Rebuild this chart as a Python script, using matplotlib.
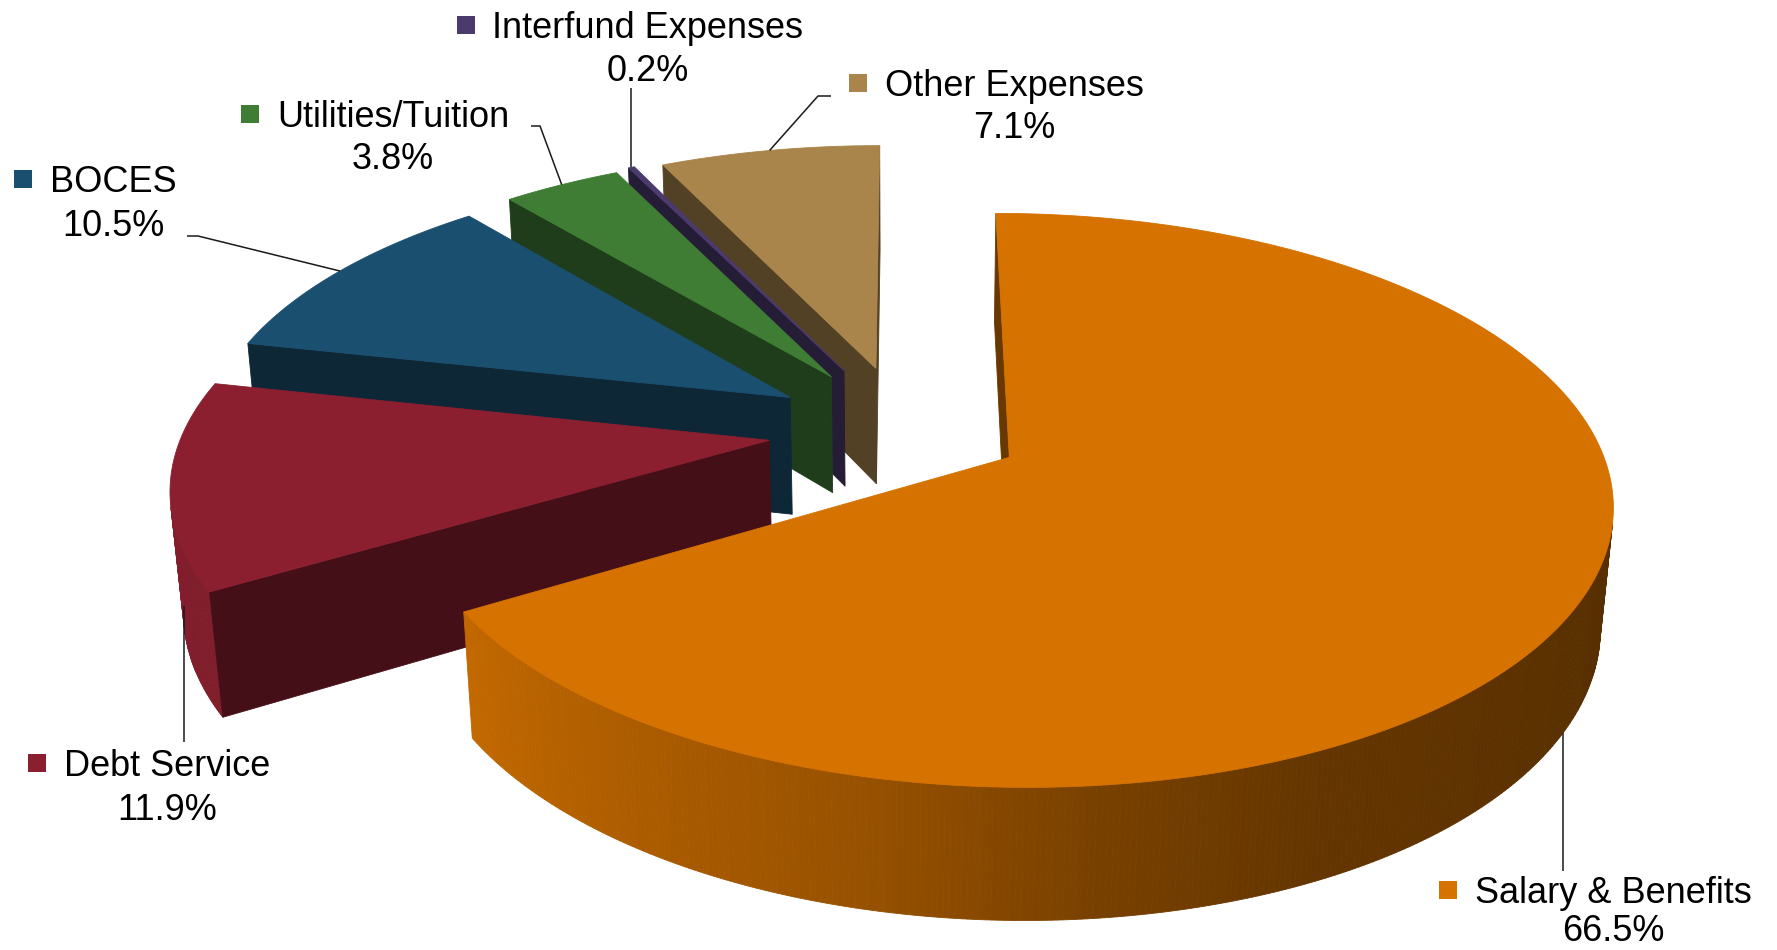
import numpy as np
import matplotlib.pyplot as plt
from matplotlib.patches import Polygon, Rectangle
from matplotlib.colors import to_rgb

# data
categories = ["Salary & Benefits", "Debt Service", "BOCES",
              "Utilities/Tuition", "Interfund Expenses", "Other Expenses"]
shares = [66.5, 11.9, 10.5, 3.8, 0.2, 7.1]
colors = ["#d57200", "#8b1f2f", "#1a4f70", "#3f7d35", "#4b3a6c", "#a9854b"]
explode = [0.20, 0.235, 0.235, 0.24, 0.25, 0.24]

# label layout (pixels): centre x, baseline of name, baseline of percent
label_x = [1613, 167, 113, 393, 648, 1014]
name_base = [903, 776, 192, 127, 38, 96]
pct_base = [941, 820, 236, 169, 81, 138]
# leader line bends after the attach point (None -> keep x of attach point)
leader_pts = [[(None, 871)], [(None, 742)], [(198, 236), (187, 236)],
              [(540, 126), (531, 126)], [(None, 88)], [(818, 96), (831, 96)]]

# view (perspective camera looking down at the pie)
W, H = 1777, 950
CX, CY = 906, 430
F, D = 3516.0, 6.0
elev = np.radians(27.7)
s_e, k_e = np.sin(elev), np.cos(elev)
DEPTH = 0.232
cam = np.array([0.0, -D * k_e, D * s_e])


def proj(X, Y, Z):
    X, Y, Z = np.asarray(X, float), np.asarray(Y, float), np.asarray(Z, float)
    zc = Y * k_e - Z * s_e + D
    return CX + F * X / zc, CY - F * (Y * s_e + Z * k_e) / zc


def shade(c, f):
    return tuple(np.clip(np.array(to_rgb(c)) * f, 0, 1))


def wall_factor(deg):
    d = deg % 360
    if d < 90:
        d += 360
    return np.interp(d, [180, 210, 255, 275, 295, 330, 360],
                     [0.95, 0.92, 0.72, 0.57, 0.47, 0.42, 0.40])


fig = plt.figure(figsize=(W / 100, H / 100), dpi=100)
ax = fig.add_axes([0, 0, 1, 1])
ax.set_xlim(0, W)
ax.set_ylim(H, 0)
ax.axis("off")

# slice geometry
slices = []
start = 90.0
for i, p in enumerate(shares):
    a0 = start
    a1 = start - p * 3.6
    start = a1
    mid = np.radians((a0 + a1) / 2)
    ex, ey = explode[i] * np.cos(mid), explode[i] * np.sin(mid)
    slices.append(dict(i=i, a0=a0, a1=a1, mid=mid, ex=ex, ey=ey))

z = 1
for sl in sorted(slices, key=lambda d: -d["ey"]):
    i, ex, ey = sl["i"], sl["ex"], sl["ey"]
    col = colors[i]
    n = max(int(abs(sl["a0"] - sl["a1"]) * 2), 2)
    th = np.radians(np.linspace(sl["a0"], sl["a1"], n + 1))
    rx, ry = ex + np.cos(th), ey + np.sin(th)
    tx, ty = proj(rx, ry, 0)
    bx, by = proj(rx, ry, -DEPTH)

    # outer wall
    for j in range(n):
        tm = (th[j] + th[j + 1]) / 2
        px, py = ex + np.cos(tm), ey + np.sin(tm)
        if np.cos(tm) * (cam[0] - px) + np.sin(tm) * (cam[1] - py) <= 0:
            continue
        fc = shade(col, wall_factor(np.degrees(tm)))
        quad = [(tx[j], ty[j]), (tx[j + 1], ty[j + 1]),
                (bx[j + 1], by[j + 1]), (bx[j], by[j])]
        ax.add_patch(Polygon(quad, closed=True, fc=fc, ec=fc, lw=0.6, zorder=z))
    z += 1

    # radial faces
    axt, ayt = proj(ex, ey, 0)
    axb, ayb = proj(ex, ey, -DEPTH)
    for edge, nrm, k in ((sl["a0"], sl["a0"] + 90, 0), (sl["a1"], sl["a1"] - 90, -1)):
        nr = np.radians(nrm)
        if np.cos(nr) * (cam[0] - ex) + np.sin(nr) * (cam[1] - ey) <= 0:
            continue
        fc = shade(col, 0.49)
        quad = [(float(axt), float(ayt)), (tx[k], ty[k]), (bx[k], by[k]),
                (float(axb), float(ayb))]
        ax.add_patch(Polygon(quad, closed=True, fc=fc, ec=fc, lw=0.6, zorder=z))
    z += 1

    # top face
    top = [(float(axt), float(ayt))] + list(zip(tx, ty))
    ax.add_patch(Polygon(top, closed=True, fc=col, ec=col, lw=0.6, zorder=z))
    z += 1

# labels and leader lines
renderer = fig.canvas.get_renderer()
for sl in slices:
    i = sl["i"]
    mid = sl["mid"]
    zz = -DEPTH if np.sin(mid) < 0 else 0.0
    ax_, ay_ = proj(sl["ex"] + np.cos(mid), sl["ey"] + np.sin(mid), zz)
    pts = [(float(ax_), float(ay_))]
    for qx, qy in leader_pts[i]:
        pts.append((float(ax_) if qx is None else qx, qy))
    xs, ys = zip(*pts)
    ax.plot(xs, ys, color="#1a1a1a", lw=1.1, zorder=z + 1, solid_capstyle="butt")

    t = ax.text(label_x[i], name_base[i], categories[i], ha="center", va="baseline",
                fontsize=26, family="Liberation Sans", color="black", zorder=z + 2)
    ax.text(label_x[i], pct_base[i], f"{shares[i]:.1f}%", ha="center", va="baseline",
            fontsize=26, family="Liberation Sans", color="black", zorder=z + 2)
    bb = t.get_window_extent(renderer=renderer)
    left = bb.x0  # display px == data px in x
    msz = 18
    ax.add_patch(Rectangle((left - 18 - msz, name_base[i] - 13 - msz / 2), msz, msz,
                           fc=colors[i], ec="none", zorder=z + 2))

fig.savefig("out.png", dpi=100)
